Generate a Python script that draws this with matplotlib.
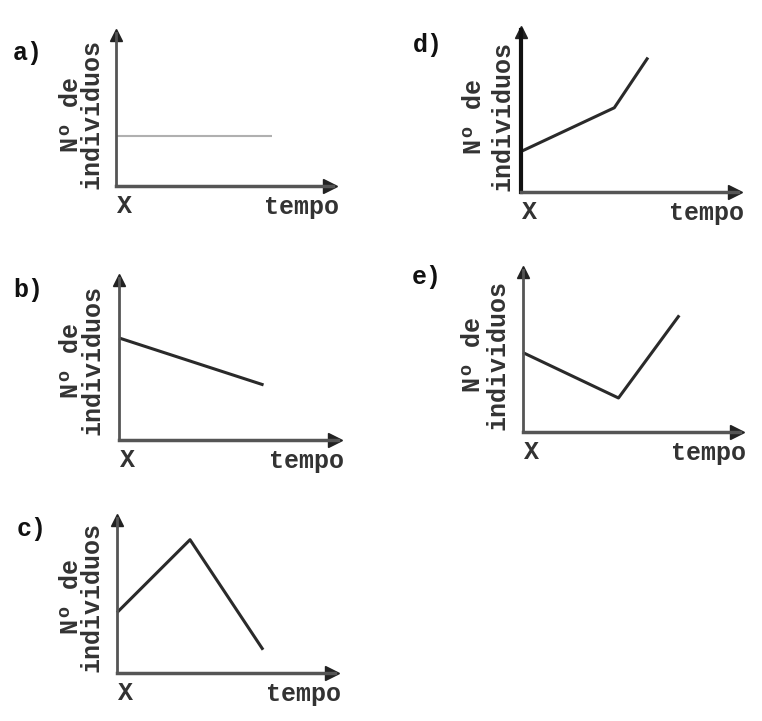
import matplotlib
matplotlib.use("Agg")
import matplotlib.pyplot as plt

# figure is 762x721 px, positions below are in pixels (left, right, top, bottom of the arrow axes)
W, H = 762, 721

# panel data in axis units (0..10 both ways)
a_x = [0, 7.2]
a_y = [3.3, 3.3]
b_x = [0, 6.6]
b_y = [6.3, 3.4]
c_x = [0, 3.35, 6.7]
c_y = [3.9, 8.6, 1.5]
d_x = [0, 4.3, 5.85]
d_y = [2.5, 5.2, 8.3]
e_x = [0, 4.4, 7.2]
e_y = [4.9, 2.1, 7.2]

panel_names = ["a)", "b)", "c)", "d)", "e)"]
xlabel = "tempo"
origin_label = "X"
ylabel = "Nº de\nindividuos"

# left, right, top, bottom of each pair of axes (pixels)
boxes = {
    "a)": (116, 333, 33, 186),
    "b)": (119, 338, 278, 440),
    "c)": (117, 335, 518, 673),
    "d)": (521, 738, 30, 192),
    "e)": (523, 740, 270, 432),
}
series = {"a)": (a_x, a_y), "b)": (b_x, b_y), "c)": (c_x, c_y),
          "d)": (d_x, d_y), "e)": (e_x, e_y)}
line_style = {"a)": ("#b0b0b0", 1.5)}
# where the letters / y labels sit (pixels); last value of ylab is the line spacing
name_pos = {"a)": (28, 53), "b)": (28, 290), "c)": (32, 529), "d)": (428, 45), "e)": (427, 277)}
ylab_pos = {"a)": (81, 114, 0.8), "b)": (82, 360, 0.85), "c)": (81, 597, 0.8),
            "d)": (488, 116, 1.25), "e)": (485, 355, 1.05)}

FONT = "Liberation Mono"
FS = 18

fig = plt.figure(figsize=(W / 100, H / 100), dpi=100)
fig.patch.set_facecolor("white")


def fx(x):
    return x / W


def fy(y):
    return 1 - y / H


for name in panel_names:
    l, r, t, b = boxes[name]
    ax = fig.add_axes([fx(l), fy(b), (r - l) / W, (b - t) / H])
    ax.set_xlim(0, 10)
    ax.set_ylim(0, 10)
    ax.set_xticks([])
    ax.set_yticks([])
    for s in ["top", "right"]:
        ax.spines[s].set_visible(False)
    axis_col = "#111111" if name == "d)" else "#555555"
    ax.spines["left"].set_color(axis_col)
    ax.spines["left"].set_linewidth(3 if name == "d)" else 2)
    ax.spines["bottom"].set_color("#555555")
    ax.spines["bottom"].set_linewidth(2.5)
    ax.patch.set_alpha(0)
    # arrow heads
    ax.plot(0.985, 0, ">", color="#222222", ms=10, transform=ax.get_yaxis_transform(), clip_on=False)
    ax.plot(0, 0.985, "^", color="#222222", ms=9, transform=ax.get_xaxis_transform(), clip_on=False)

    xs, ys = series[name]
    col, lw = line_style.get(name, ("#2a2a2a", 2.2))
    ax.plot(xs, ys, color=col, lw=lw, solid_capstyle="butt", clip_on=False)

    fig.text(fx(name_pos[name][0]), fy(name_pos[name][1]), name, fontsize=FS, family=FONT,
             weight="bold", ha="center", va="center", color="#111111")
    xc, yc, ls = ylab_pos[name]
    fig.text(fx(xc), fy(yc), ylabel, fontsize=FS, family=FONT, weight="bold",
             rotation=90, ha="center", va="center", multialignment="center",
             linespacing=ls, color="#333333")
    fig.text(fx(l + 1), fy(b + 20), origin_label, fontsize=FS, family=FONT, weight="bold",
             ha="left", va="center", color="#333333")
    fig.text(fx(r + 6), fy(b + 21), xlabel, fontsize=FS, family=FONT, weight="bold",
             ha="right", va="center", color="#333333")

fig.savefig("out.png", dpi=100, facecolor="white")
